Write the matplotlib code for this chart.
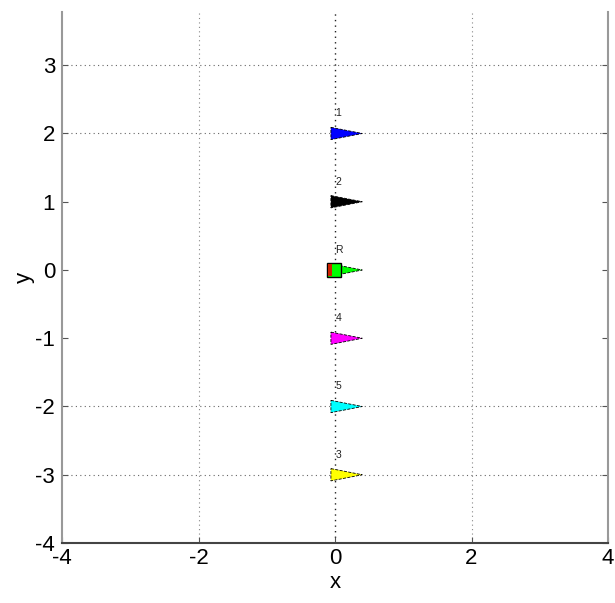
import matplotlib
matplotlib.use("Agg")
import matplotlib.pyplot as plt
from matplotlib.patches import Polygon, Rectangle

labels = ["1", "2", "R", "4", "5", "3"]
xs = [0, 0, 0, 0, 0, 0]
ys = [2, 1, 0, -1, -2, -3]
colors = ["#0000ff", "#000000", "#00ff00", "#ff00ff", "#00ffff", "#ffff00"]
xticks = [-4, -2, 0, 2, 4]
yticks = [-4, -3, -2, -1, 0, 1, 2, 3]
ygrid_shown = [3, 2, -2, -3]

plt.rcParams['font.family'] = ['Liberation Sans', 'DejaVu Sans']
plt.rcParams['axes.unicode_minus'] = False
fig = plt.figure(figsize=(6.15, 6.03), dpi=100)
ax = fig.add_axes([62/615, 60/603, 546/615, 531/603])
ax.set_xlim(-4, 4)
ax.set_ylim(-4, 3.78)

# grid
for gx in [-2, 2]:
    ax.axvline(gx, color='#888888', lw=0.8, ls=(0, (1, 3)), zorder=0)
ax.axvline(0, color='#222222', lw=1.0, ls=(0, (1, 3)), zorder=0)
for gy in ygrid_shown:
    ax.axhline(gy, color='#666666', lw=0.8, ls=(0, (1, 3)), zorder=0)

for lab, x, y, c in zip(labels, xs, ys, colors):
    tri = Polygon([(x - 0.06, y + 0.09), (x + 0.4, y), (x - 0.06, y - 0.09)],
                  closed=True, facecolor=c, edgecolor='black', lw=0.6, ls='--', zorder=3)
    ax.add_patch(tri)
    if lab == "R":
        sq = Rectangle((x - 0.11, y - 0.1), 0.2, 0.2, facecolor=c,
                       edgecolor='black', lw=1.0, zorder=4)
        ax.add_patch(sq)
        ax.add_patch(Rectangle((x - 0.1, y - 0.09), 0.05, 0.18, facecolor='#cc2200',
                               edgecolor='none', zorder=6))
    ax.text(x + 0.05, y + 0.22, lab, fontsize=7.5, ha='center', va='bottom', color='#222222')

ax.set_xticks(xticks)
ax.set_yticks(yticks)
ax.tick_params(direction='in', length=4, labelsize=16, right=True, top=False, color='#555555')
ax.tick_params(axis='y', pad=5)
ax.set_xlabel('x', fontsize=16, labelpad=2)
ax.set_ylabel('y', fontsize=16, labelpad=0)
for s in ['left', 'right', 'bottom']:
    ax.spines[s].set_color('#999999')
    ax.spines[s].set_linewidth(1.5)
ax.spines['bottom'].set_color('#444444')
ax.spines['top'].set_visible(False)

fig.savefig('out.png', dpi=100)
